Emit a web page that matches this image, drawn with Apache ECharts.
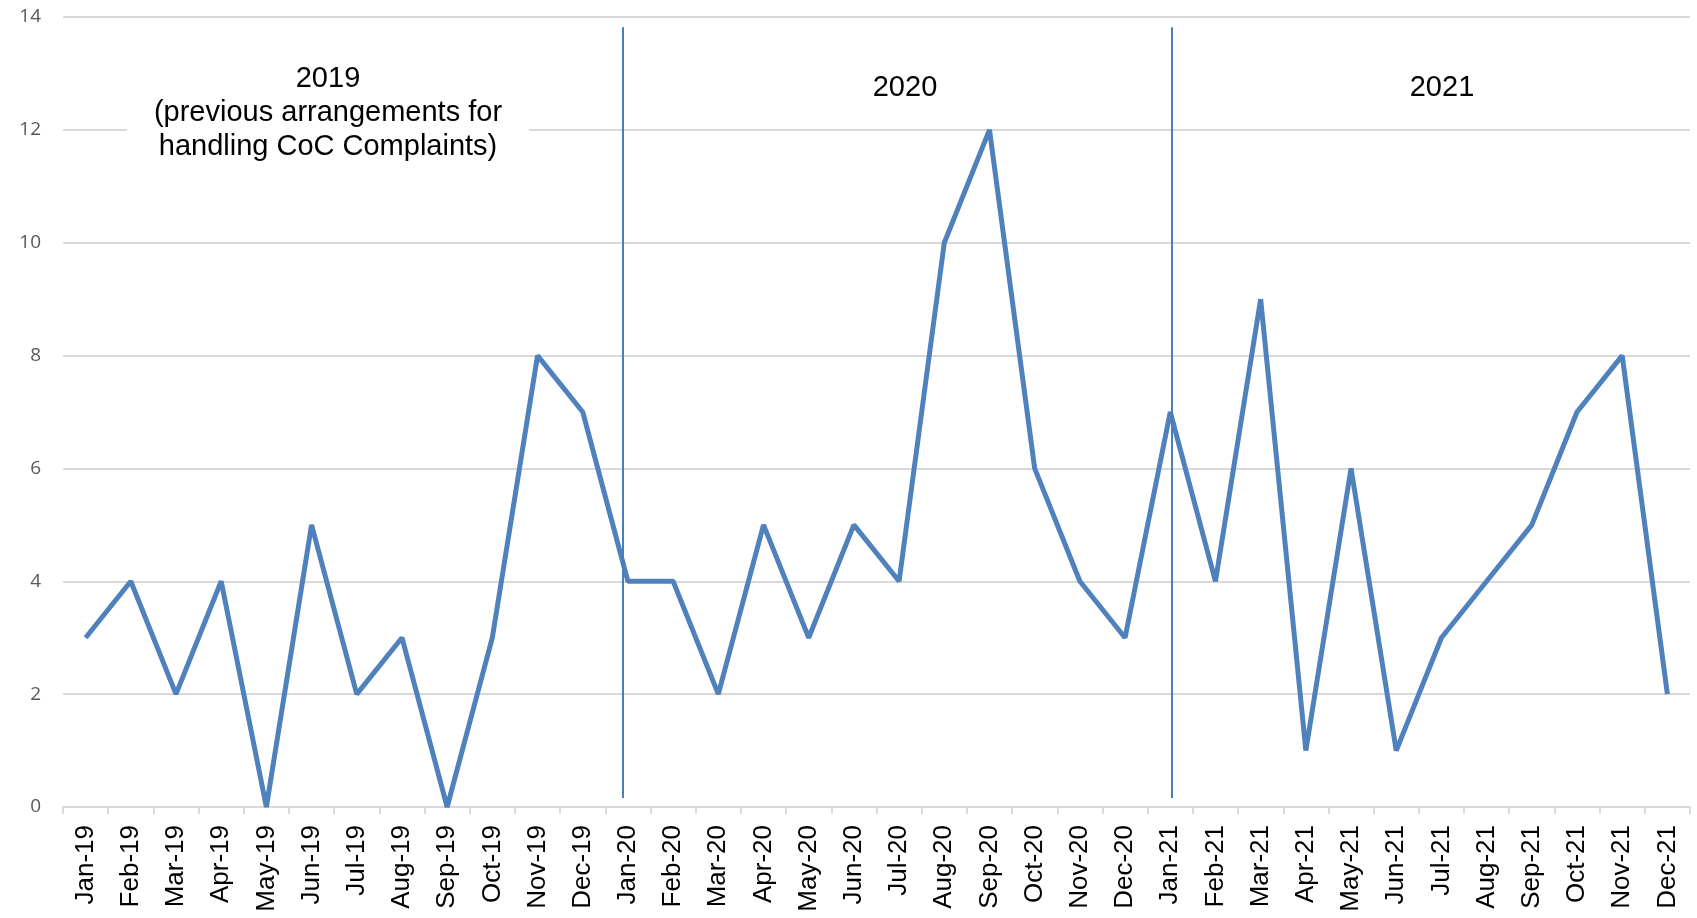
<!DOCTYPE html>
<html>
<head>
<meta charset="utf-8">
<style>
  html, body { margin: 0; padding: 0; background: #fff; }
  #main { width: 1697px; height: 918px; }
</style>
<script src="https://cdn.jsdelivr.net/npm/echarts@6/dist/echarts.min.js"></script>
</head>
<body>
<div id="main"></div>
<script>
// months shown on the category axis
var months = [
  'Jan-19', 'Feb-19', 'Mar-19', 'Apr-19', 'May-19', 'Jun-19', 'Jul-19', 'Aug-19', 'Sep-19', 'Oct-19', 'Nov-19', 'Dec-19',
  'Jan-20', 'Feb-20', 'Mar-20', 'Apr-20', 'May-20', 'Jun-20', 'Jul-20', 'Aug-20', 'Sep-20', 'Oct-20', 'Nov-20', 'Dec-20',
  'Jan-21', 'Feb-21', 'Mar-21', 'Apr-21', 'May-21', 'Jun-21', 'Jul-21', 'Aug-21', 'Sep-21', 'Oct-21', 'Nov-21', 'Dec-21'
];
// complaints per month
var complaints = [
  3, 4, 2, 4, 0, 5, 2, 3, 0, 3, 8, 7,
  4, 4, 2, 5, 3, 5, 4, 10, 12, 6, 4, 3,
  7, 4, 9, 1, 6, 1, 3, 4, 5, 7, 8, 2
];
// year separators on a 0..36 month scale (around Jan-20 / Jan-21)
var yearStarts = [12.38, 24.53];

var chart = echarts.init(document.getElementById('main'));

var sepLines = [];
for (var i = 0; i < yearStarts.length; i++) {
  sepLines.push([{ coord: [yearStarts[i], 13.82] }, { coord: [yearStarts[i], 0.16] }]);
}

var option = {
  animation: false,
  backgroundColor: '#fff',
  grid: { left: 63, right: 7, top: 17, bottom: 111 },
  xAxis: [{
    type: 'category',
    data: months,
    boundaryGap: true,
    axisLine: { lineStyle: { color: '#d9d9d9', width: 2 } },
    axisTick: { show: true, length: 7, lineStyle: { color: '#d9d9d9', width: 2 } },
    axisLabel: {
      interval: 0,
      rotate: 90,
      margin: 18,
      color: '#000',
      fontFamily: 'Liberation Sans, Arial, sans-serif',
      fontSize: 26
    }
  }, {
    // hidden helper axis for the separators
    type: 'value',
    min: 0,
    max: months.length,
    show: false
  }],
  yAxis: {
    type: 'value',
    min: 0,
    max: 14,
    interval: 2,
    axisLine: { show: false },
    axisTick: { show: false },
    splitLine: { lineStyle: { color: '#d9d9d9', width: 2 } },
    axisLabel: {
      margin: 22,
      color: '#595959',
      fontFamily: 'Open Sans, sans-serif',
      fontSize: 19
    }
  },
  series: [{
    type: 'line',
    data: complaints,
    symbol: 'none',
    lineStyle: { color: '#4f81bd', width: 5 }
  }, {
    type: 'line',
    xAxisIndex: 1,
    data: [],
    symbol: 'none',
    markLine: {
      silent: true,
      symbol: 'none',
      label: { show: false },
      lineStyle: { color: '#4a7ebb', width: 2, type: 'solid' },
      data: sepLines
    }
  }],
  graphic: [
    {
      type: 'rect',
      shape: { x: 127, y: 55, width: 402, height: 112 },
      style: { fill: '#fff' },
      z: 50
    },
    {
      type: 'text',
      x: 328, y: 113, z: 51,
      style: {
        text: '2019\n(previous arrangements for\nhandling CoC Complaints)',
        fill: '#000',
        font: '29px "Liberation Sans", Arial, sans-serif',
        lineHeight: 34,
        align: 'center',
        verticalAlign: 'middle'
      }
    },
    {
      type: 'text',
      x: 905, y: 88, z: 51,
      style: {
        text: '2020',
        fill: '#000',
        font: '29px "Liberation Sans", Arial, sans-serif',
        align: 'center',
        verticalAlign: 'middle'
      }
    },
    {
      type: 'text',
      x: 1442, y: 88, z: 51,
      style: {
        text: '2021',
        fill: '#000',
        font: '29px "Liberation Sans", Arial, sans-serif',
        align: 'center',
        verticalAlign: 'middle'
      }
    }
  ]
};

chart.setOption(option);
</script>
</body>
</html>
